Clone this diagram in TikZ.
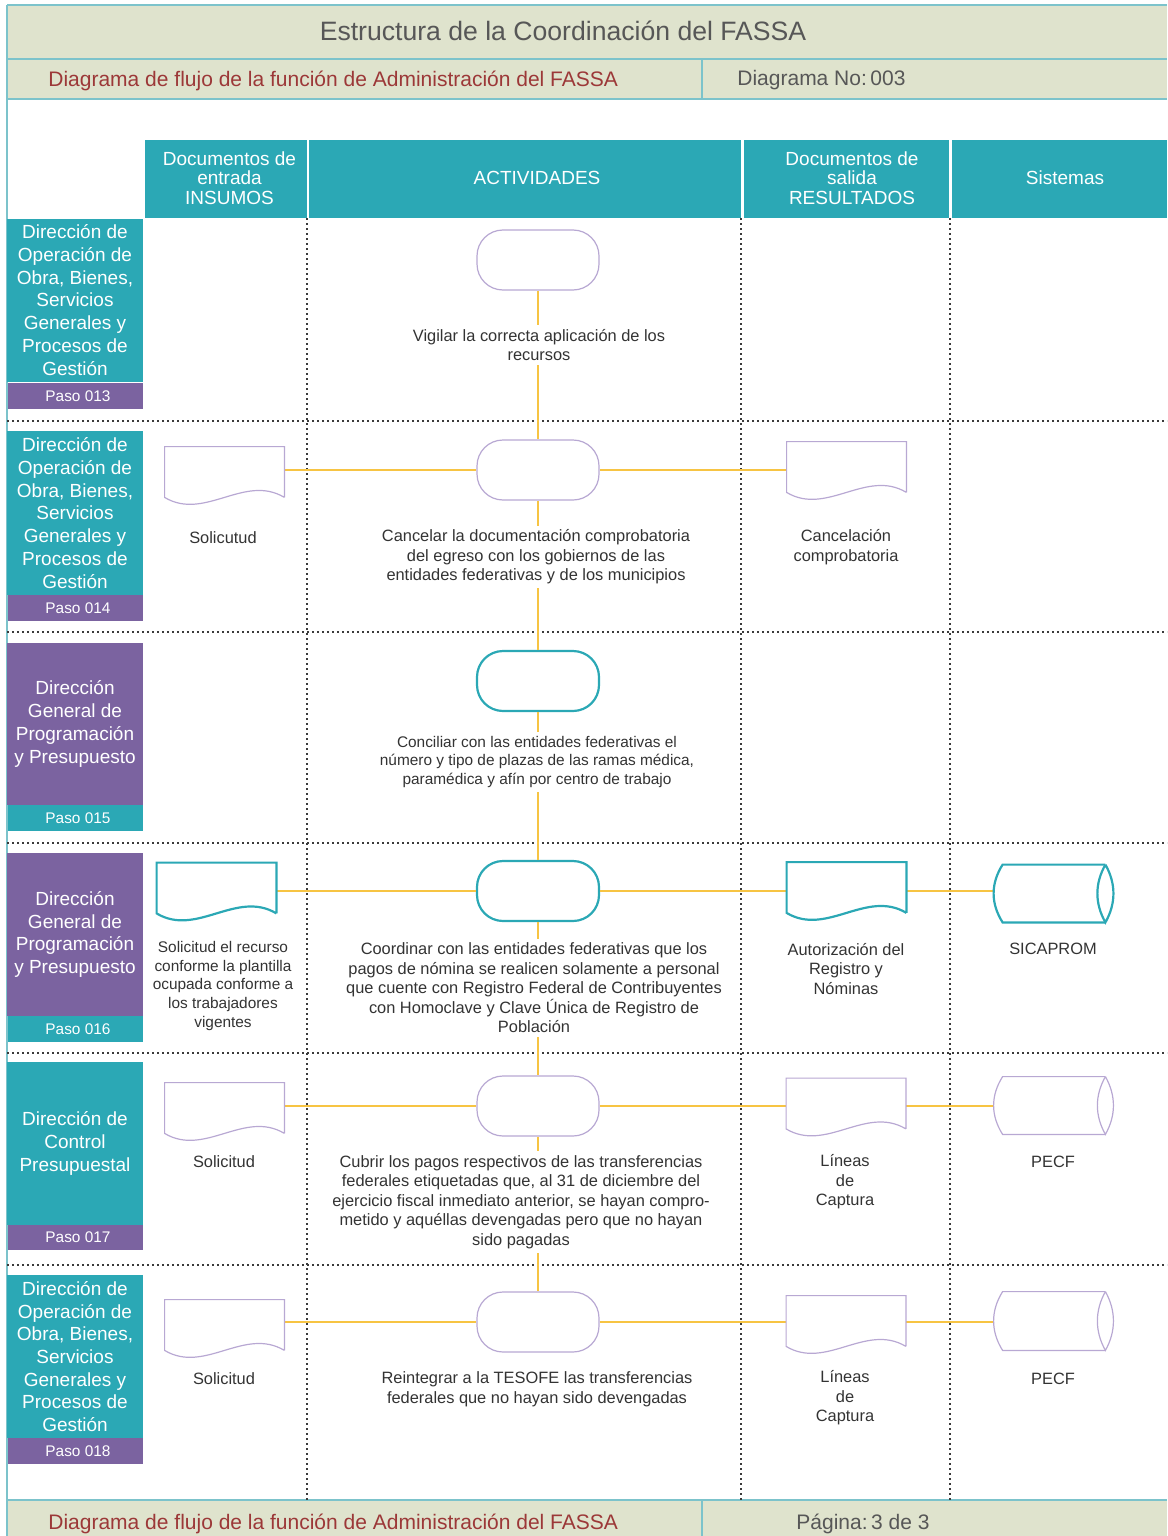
\documentclass[tikz,border=0pt]{standalone}
\usepackage{fontspec}
\setmainfont{Liberation Sans}
\usetikzlibrary{calc}
\definecolor{teal1}{HTML}{2BA8B5}
\definecolor{purp}{HTML}{7B63A0}
\definecolor{beige}{HTML}{DFE3CD}
\definecolor{hbord}{HTML}{7CC3CB}
\definecolor{yel}{HTML}{F7C443}
\definecolor{lav}{HTML}{B8A8D3}
\definecolor{txt}{HTML}{333333}
\definecolor{tgray}{HTML}{575757}
\definecolor{redt}{HTML}{9C3838}
\definecolor{dotc}{HTML}{3A3A3A}
\newcommand\docshape[2]{%
  \draw[#2] (#1.south east) -- (#1.north east) -- (#1.north west) -- (#1.south west)
    .. controls +(40,24) and +(-40,-24) .. (#1.south east);}
\newcommand\cylshape[2]{%
  \draw[#2] ($(#1.north east)+(-8,0)$) -- ($(#1.north west)+(9,0)$)
    .. controls +(-12,19) and +(-12,-19) .. ($(#1.south west)+(9,0)$)
    -- ($(#1.south east)+(-8,0)$);
  \draw[#2] ($(#1.north east)+(-8,0)$) .. controls +(-10.7,19) and +(-10.7,-19) .. ($(#1.south east)+(-8,0)$)
    .. controls +(10.7,-19) and +(10.7,19) .. ($(#1.north east)+(-8,0)$);}
\begin{document}
\begin{tikzpicture}[x=0.5pt,y=-0.5pt,
  hb/.style={draw=hbord, line width=0.8pt},
  dot/.style={draw=dotc, line width=0.55pt, dash pattern=on 1.1pt off 1.4pt},
  flow/.style={draw=yel, line width=0.75pt},
  colhead/.style={fill=teal1, inner sep=0pt, minimum height=39pt},
  coltext/.style={text=white, align=center, inner sep=0pt, font=\fontsize{9.5}{9.75}\selectfont},
  lanebox/.style={text=white, align=center, inner sep=0pt, minimum width=68pt, font=\fontsize{9.5}{11.35}\selectfont},
  pasobox/.style={text=white, inner sep=0pt, minimum width=67.5pt, minimum height=13pt, font=\fontsize{7.7}{9}\selectfont},
  termL/.style={draw=lav, line width=0.6pt, fill=white, rounded corners=13pt, minimum width=61pt, minimum height=30pt, inner sep=0pt},
  termT/.style={termL, draw=teal1, line width=1.1pt},
  docbox/.style={minimum width=59.5pt, minimum height=25pt, inner sep=0pt},
  cylbox/.style={minimum width=59.5pt, minimum height=28.5pt, inner sep=0pt},
  body/.style={text=txt, align=center, inner sep=2pt, fill=white, font=\fontsize{8.2}{9.75}\selectfont},
  bodys/.style={body, font=\fontsize{7.7}{9.3}\selectfont},
  lbl/.style={text=txt, align=center, inner sep=0pt, font=\fontsize{8.2}{9.75}\selectfont},
  lbls/.style={lbl, font=\fontsize{7.7}{9.3}\selectfont},
  lavline/.style={draw=lav, line width=0.6pt},
  tealline/.style={draw=teal1, line width=1.1pt}
]
\useasboundingbox (0,0) rectangle (1167,1536);
% header bands
\fill[beige] (7,5) rectangle (1167,99);
\draw[hb] (7,5) -- (1167,5);
\draw[hb] (7,59) -- (1167,59);
\draw[hb] (7,99) -- (1167,99);
\draw[hb] (702,59) -- (702,99);
\node[text=tgray, inner sep=0pt, font=\fontsize{13.3}{15}\selectfont] (title) at (563,31) {Estructura de la Coordinación del FASSA};
\node[text=redt, inner sep=0pt, anchor=west, font=\fontsize{10.5}{12}\selectfont] (sub) at (48,80.5) {Diagrama de flujo de la función de Administración del FASSA};
\node[text=tgray, inner sep=0pt, anchor=west, font=\fontsize{10.5}{12}\selectfont] (dno) at (737,80.5) {Diagrama No:\,003};
% footer
\fill[beige] (7,1500) rectangle (1167,1536);
\draw[hb] (7,1500) -- (1167,1500);
\draw[hb] (702,1500) -- (702,1536);
\node[text=redt, inner sep=0pt, anchor=west, font=\fontsize{10.5}{12}\selectfont] (fsub) at (48,1524) {Diagrama de flujo de la función de Administración del FASSA};
\node[text=tgray, inner sep=0pt, font=\fontsize{10.5}{12}\selectfont] (pag) at (863,1524) {Página:\,3 de 3};
\draw[hb] (7,5) -- (7,1536);
% column headers
\node[colhead, minimum width=81pt] (h1) at (226,179) {};
\node[colhead, minimum width=216pt] (h2) at (525,179) {};
\node[colhead, minimum width=102.5pt] (h3) at (846.5,179) {};
\node[colhead, minimum width=107.5pt] (h4) at (1059.5,179) {};
\node[coltext] (h1t) at (229.5,178) {Documentos de\\entrada\\INSUMOS};
\node[coltext] (h2t) at (537,178) {ACTIVIDADES};
\node[coltext] (h3t) at (852,178) {Documentos de\\salida\\RESULTADOS};
\node[coltext] (h4t) at (1065,178) {Sistemas};
% dotted grid
\foreach \xx in {307,741,950} \draw[dot] (\xx,218) -- (\xx,1500);
\foreach \yy in {421,632,843,1053,1265} \draw[dot] (7,\yy) -- (1167,\yy);
% lane labels
\node[lanebox, fill=teal1, minimum height=81.5pt] (l1) at (75,300) {Dirección de\\Operación de\\Obra, Bienes,\\Servicios\\Generales y\\Procesos de\\Gestión};
\node[pasobox, fill=purp] (p1) at (75,396) {\hspace*{3pt}Paso 013};
\node[lanebox, fill=teal1, minimum height=82pt] (l2) at (75,513) {Dirección de\\Operación de\\Obra, Bienes,\\Servicios\\Generales y\\Procesos de\\Gestión};
\node[pasobox, fill=purp] (p2) at (75,608) {\hspace*{3pt}Paso 014};
\node[lanebox, fill=purp, minimum height=81pt] (l3) at (75,724) {Dirección\\General de\\Programación\\y Presupuesto};
\node[pasobox, fill=teal1] (p3) at (75,818) {\hspace*{3pt}Paso 015};
\node[lanebox, fill=purp, minimum height=81.5pt] (l4) at (75,934.5) {Dirección\\General de\\Programación\\y Presupuesto};
\node[pasobox, fill=teal1] (p4) at (75,1029) {\hspace*{3pt}Paso 016};
\node[lanebox, fill=teal1, minimum height=81.5pt] (l5) at (75,1143.5) {Dirección de\\Control\\Presupuestal};
\node[pasobox, fill=purp, minimum height=12.5pt] (p5) at (75,1237.5) {\hspace*{3pt}Paso 017};
\node[lanebox, fill=teal1, minimum height=81.5pt] (l6) at (75,1356.5) {Dirección de\\Operación de\\Obra, Bienes,\\Servicios\\Generales y\\Procesos de\\Gestión};
\node[pasobox, fill=purp] (p6) at (75,1451) {\hspace*{3pt}Paso 018};
% terminals
\node[termL] (t1) at (538,260) {};
\node[termL] (t2) at (538,470) {};
\node[termT] (t3) at (538,681) {};
\node[termT] (t4) at (538,891) {};
\node[termL] (t5) at (538,1106) {};
\node[termL] (t6) at (538,1322) {};
% documents
\node[docbox] (d2i) at (224.5,472) {};
\node[docbox] (d2o) at (846.5,467) {};
\node[docbox] (d4i) at (216.5,888) {};
\node[docbox] (d4o) at (846.5,887.5) {};
\node[docbox] (d5i) at (224.5,1108) {};
\node[docbox] (d5o) at (846,1103.5) {};
\node[docbox] (d6i) at (224.5,1325) {};
\node[docbox] (d6o) at (846,1321) {};
% cylinders
\node[cylbox] (c4) at (1053.5,893.5) {};
\node[cylbox] (c5) at (1053.5,1105.5) {};
\node[cylbox, minimum height=29pt] (c6) at (1053.5,1321) {};
% connectors
\draw[flow] (t1.south) -- (t2.north);
\draw[flow] (t2.south) -- (t3.north);
\draw[flow] (t3.south) -- (t4.north);
\draw[flow] (t4.south) -- (t5.north);
\draw[flow] (t5.south) -- (t6.north);
\draw[flow] (t2.west -| d2i.east) -- (t2.west);
\draw[flow] (t2.east) -- (t2.east -| d2o.west);
\draw[flow] (t4.west -| d4i.east) -- (t4.west);
\draw[flow] (t4.east) -- (t4.east -| d4o.west);
\draw[flow] (t4.east -| d4o.east) -- (t4.east -| c4.west);
\draw[flow] (t5.west -| d5i.east) -- (t5.west);
\draw[flow] (t5.east) -- (t5.east -| d5o.west);
\draw[flow] (t5.east -| d5o.east) -- (t5.east -| c5.west);
\draw[flow] (t6.west -| d6i.east) -- (t6.west);
\draw[flow] (t6.east) -- (t6.east -| d6o.west);
\draw[flow] (t6.east -| d6o.east) -- (t6.east -| c6.west);
% shapes outlines
\docshape{d2i}{lavline}
\docshape{d2o}{lavline}
\docshape{d4i}{tealline}
\docshape{d4o}{tealline}
\docshape{d5i}{lavline}
\docshape{d5o}{lavline}
\docshape{d6i}{lavline}
\docshape{d6o}{lavline}
\cylshape{c4}{tealline}
\cylshape{c5}{lavline}
\cylshape{c6}{lavline}
% activity texts
\node[body] (a1) at (539,345) {Vigilar la correcta aplicación de los\\recursos};
\node[body] (a2) at (536,557) {Cancelar la documentación comprobatoria\\del egreso con los gobiernos de las\\entidades federativas y de los municipios};
\node[bodys] (a3) at (537,762) {Conciliar con las entidades federativas el\\número y tipo de plazas de las ramas médica,\\paramédica y afín por centro de trabajo};
\node[body] (a4) at (534,988) {Coordinar con las entidades federativas que los\\pagos de nómina se realicen solamente a personal\\que cuente con Registro Federal de Contribuyentes\\con Homoclave y Clave Única de Registro de\\Población};
\node[body] (a5) at (521,1202) {Cubrir los pagos respectivos de las transferencias\\federales etiquetadas que, al 31 de diciembre del\\ejercicio fiscal inmediato anterior, se hayan compro-\\metido y aquéllas devengadas pero que no hayan\\sido pagadas};
\node[body] (a6) at (537,1389) {Reintegrar a la TESOFE las transferencias\\federales que no hayan sido devengadas};
% labels
\node[lbl] (i2) at (223,538) {Solicutud};
\node[lbl] (o2) at (846,547) {Cancelación\\comprobatoria};
\node[lbls] (i4) at (223,986) {Solicitud el recurso\\conforme la plantilla\\ocupada conforme a\\los trabajadores\\vigentes};
\node[lbl] (o4) at (846,969) {Autorización del\\Registro y\\Nóminas};
\node[lbl] (s4) at (1053,949) {SICAPROM};
\node[lbl] (i5) at (224,1162) {Solicitud};
\node[lbl] (o5) at (845,1182) {Líneas\\de\\Captura};
\node[lbl] (s5) at (1053,1162) {PECF};
\node[lbl] (i6) at (224,1379) {Solicitud};
\node[lbl] (o6) at (845,1398) {Líneas\\de\\Captura};
\node[lbl] (s6) at (1053,1379) {PECF};
\end{tikzpicture}
\end{document}
